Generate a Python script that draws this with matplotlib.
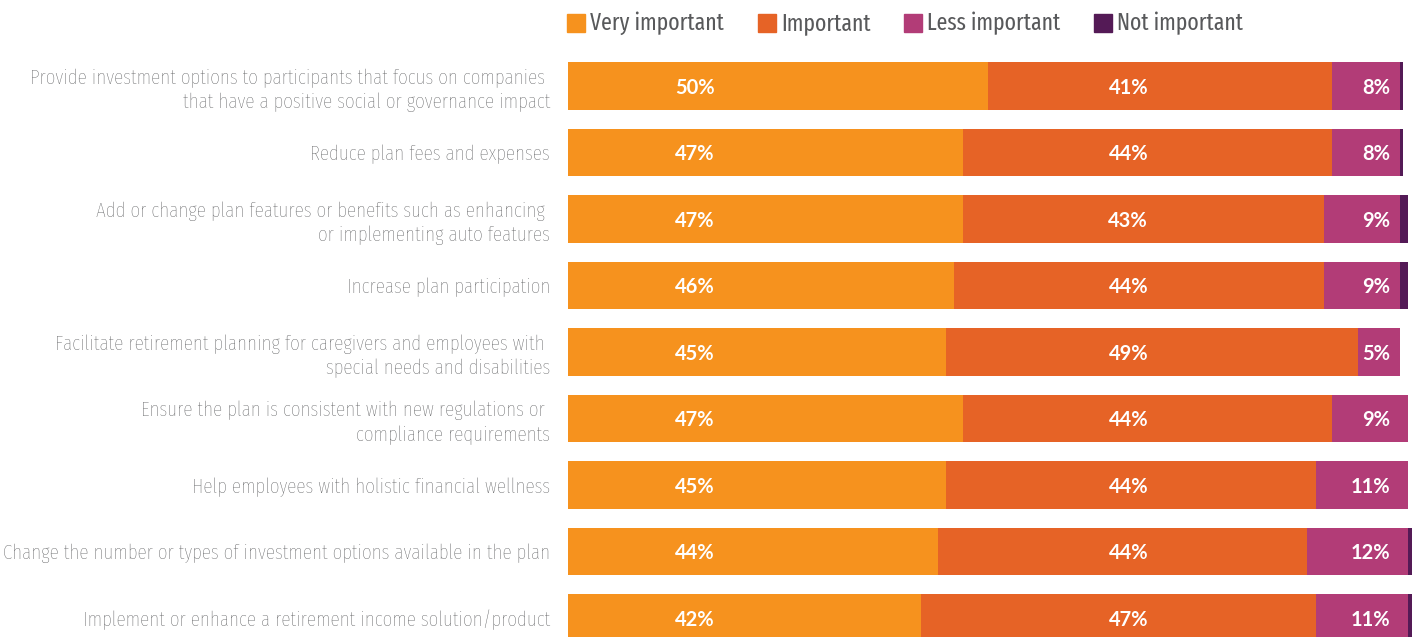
import matplotlib.pyplot as plt
from matplotlib.patches import Rectangle

# survey items (top to bottom) and shares in percent
items = [
    "Provide investment options to participants that focus on companies \nthat have a positive social or governance impact",
    "Reduce plan fees and expenses",
    "Add or change plan features or benefits such as enhancing \nor implementing auto features",
    "Increase plan participation",
    "Facilitate retirement planning for caregivers and employees with \nspecial needs and disabilities",
    "Ensure the plan is consistent with new regulations or \ncompliance requirements",
    "Help employees with holistic financial wellness",
    "Change the number or types of investment options available in the plan",
    "Implement or enhance a retirement income solution/product",
]
very_important = [50, 47, 47, 46, 45, 47, 45, 44, 42]
important = [41, 44, 43, 44, 49, 44, 44, 44, 47]
less_important = [8, 8, 9, 9, 5, 9, 11, 12, 11]
not_important = [0.4, 0.4, 1, 1, 0, 0, 0, 0.5, 0.5]

series_names = ["Very important", "Important", "Less important", "Not important"]
colors = ["#F6921E", "#E66326", "#B23C77", "#541A56"]
text_gray = "#58595B"
narrow = ["Fira Sans Extra Condensed", "Fira Sans Condensed", "Liberation Sans Narrow",
          "Roboto", "DejaVu Sans"]

W, H = 1416, 637
fig = plt.figure(figsize=(W / 100, H / 100), dpi=100)

# axes placed in pixel terms: bars start at x=568, 8.4 px per percent
left_px, right_px = 568, 1416
top_px, bottom_px = 55, 637
ax = fig.add_axes([left_px / W, 1 - bottom_px / H,
                   (right_px - left_px) / W, (bottom_px - top_px) / H])
px_per_pct = 8.4
row_px = 66.5
first_center = 86
ax.set_xlim(0, (right_px - left_px) / px_per_pct)
ax.set_ylim((bottom_px - first_center) / row_px, (top_px - first_center) / row_px)

ys = list(range(len(items)))
lefts = [0] * len(items)
for vals, col in zip([very_important, important, less_important, not_important], colors):
    ax.barh(ys, vals, left=lefts, height=0.72, color=col, linewidth=0)
    lefts = [a + b for a, b in zip(lefts, vals)]

lbl = dict(color="white", fontsize=14.5, fontweight="bold", va="center",
           family=["Lato", "DejaVu Sans"])
for y, v1, v2, v3 in zip(ys, very_important, important, less_important):
    ax.text(15.1, y + 0.03, f"{v1}%", ha="center", **lbl)
    ax.text(66.7, y + 0.03, f"{v2}%", ha="center", **lbl)
    ax.text(97.9, y + 0.03, f"{v3}%", ha="right", **lbl)

ax.set_yticks(ys)
ax.set_yticklabels(items, fontsize=15, color=text_gray, family=narrow,
                   fontweight="light", linespacing=1.32)
ax.tick_params(axis="y", length=0, pad=13)
ax.set_xticks([])
for s in ax.spines.values():
    s.set_visible(False)

# legend row across the top
leg_x = [567, 758, 904, 1094]
for x, name, col in zip(leg_x, series_names, colors):
    fig.patches.append(Rectangle((x / W, 1 - 32 / H), 18 / W, 18 / H,
                                 transform=fig.transFigure, color=col))
    fig.text((x + 23) / W, 1 - 23 / H, name, fontsize=17, color=text_gray,
             family=narrow, fontweight="normal", va="center", ha="left")

fig.savefig("out.png", dpi=100)
